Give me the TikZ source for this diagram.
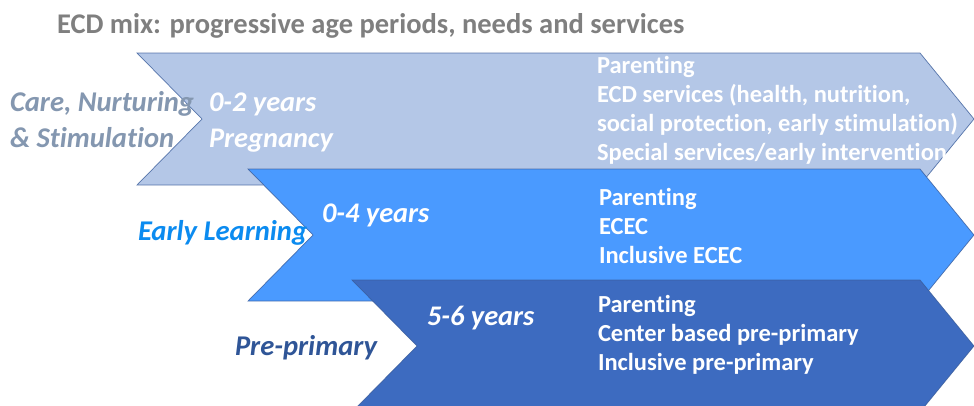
\documentclass[tikz,border=0pt]{standalone}
\usepackage{fontspec}
\setmainfont{Carlito}[Ligatures=NoCommon]
\definecolor{lightchev}{HTML}{B4C7E7}
\definecolor{midchev}{HTML}{4A9AFF}
\definecolor{darkchev}{HTML}{3D6BC0}
\definecolor{chevline}{HTML}{3A5C9A}
\definecolor{titlegray}{HTML}{7F7F7F}
\definecolor{carecol}{HTML}{8497B0}
\definecolor{learncol}{HTML}{0B8BF0}
\definecolor{precol}{HTML}{2F5597}
\tikzset{
  chev/.style={draw=chevline, line width=0.7pt, draw opacity=0.8, line join=miter},
  txt/.style={anchor=base west, inner sep=0pt, outer sep=0pt},
  sideital/.style={txt, font=\fontsize{28.6}{34}\selectfont\bfseries\itshape},
  agetxt/.style={txt, text=white, font=\fontsize{28.4}{34}\selectfont\bfseries\itshape},
  svc/.style={txt, text=white, font=\fontsize{24.5}{29}\selectfont\bfseries},
}
\begin{document}
\begin{tikzpicture}[x=1pt,y=-1pt]
\useasboundingbox (0,0) rectangle (974,405);
\clip (0,0) rectangle (974,405);
\fill[white] (0,0) rectangle (974,405);
% chevrons
\path[chev, fill=lightchev] (137,53) -- (920,53) -- (974,119) -- (920,185) -- (137,185) -- (202,119) -- cycle;
\path[chev, fill=midchev] (248,169) -- (920,169) -- (974,235) -- (920,301) -- (248,301) -- (313,235) -- cycle;
\path[chev, fill=darkchev] (352,280) -- (920,280) -- (974,346) -- (920,412) -- (352,412) -- (417,346) -- cycle;
% title
\node[txt, text=titlegray, font=\fontsize{28.5}{34}\selectfont\bfseries] (title) at (57,33) {ECD mix: progressive age periods, needs and services};
% row 1
\node[sideital, text=carecol] (care1) at (10,111) {Care, Nurturing};
\node[sideital, text=carecol] (care2) at (10,147) {\& Stimulation};
\node[agetxt] (age1a) at (209,111) {0-2 years};
\node[agetxt] (age1b) at (209,147) {Pregnancy};
\node[svc] (s1a) at (597,73) {Parenting};
\node[svc] (s1b) at (597,102) {ECD services (health, nutrition,};
\node[svc] (s1c) at (597,131) {social protection, early stimulation)};
\node[svc] (s1d) at (597,160) {Special services/early intervention};
% row 2
\node[sideital, text=learncol] (learn) at (138,240) {Early Learning};
\node[agetxt] (age2) at (322,222) {0-4 years};
\node[svc] (s2a) at (599,205) {Parenting};
\node[svc] (s2b) at (599,234) {ECEC};
\node[svc] (s2c) at (599,263) {Inclusive ECEC};
% row 3
\node[sideital, text=precol] (pre) at (235,355) {Pre-primary};
\node[agetxt] (age3) at (427,325) {5-6 years};
\node[svc] (s3a) at (598,312) {Parenting};
\node[svc] (s3b) at (598,341) {Center based pre-primary};
\node[svc] (s3c) at (598,370) {Inclusive pre-primary};
\end{tikzpicture}
\end{document}
